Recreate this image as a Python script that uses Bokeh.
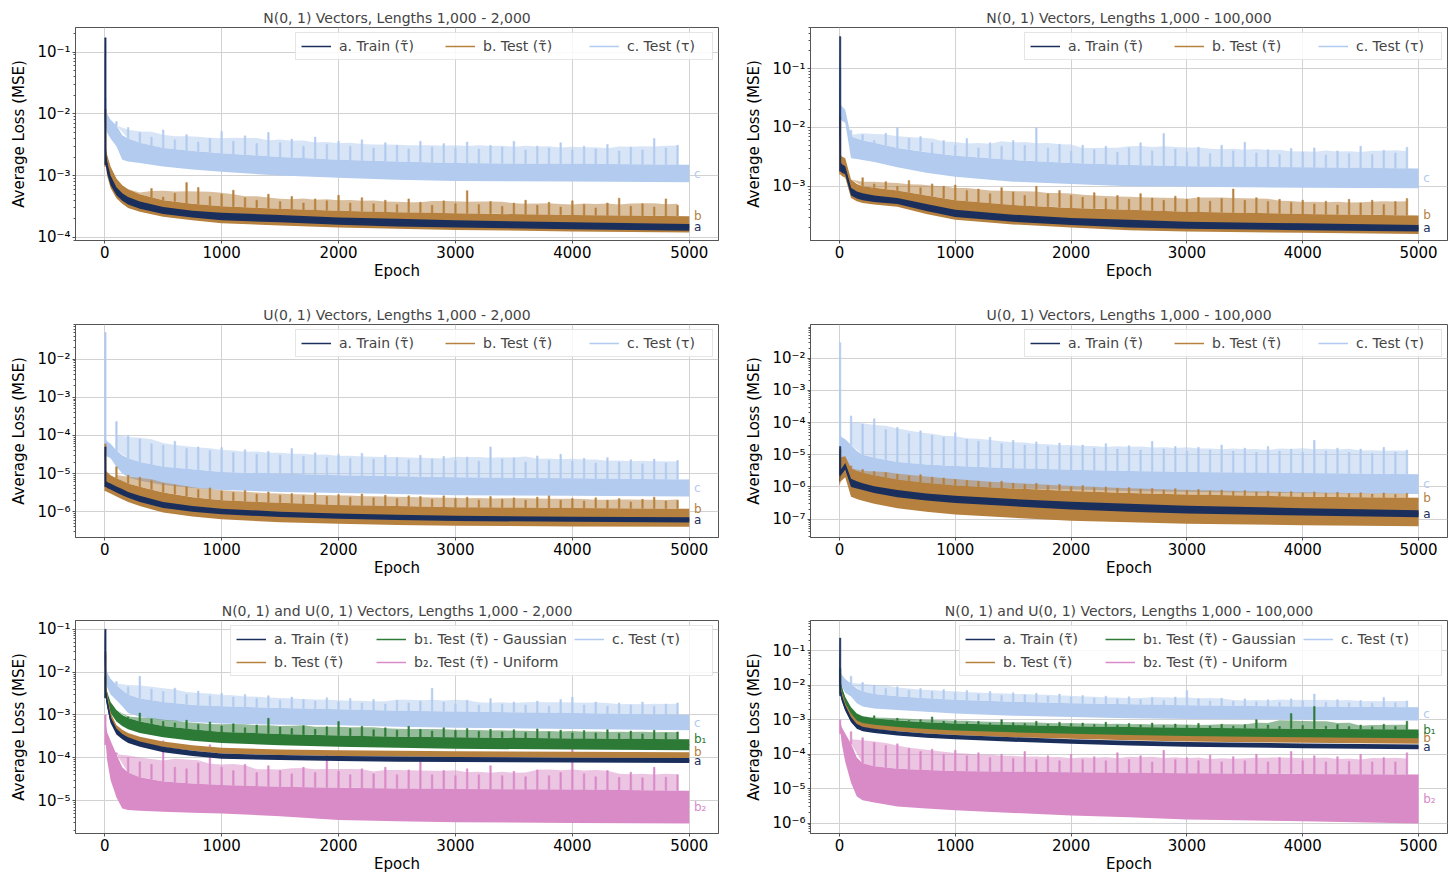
import numpy as np
from bokeh.plotting import figure
from bokeh.layouts import column, row
from bokeh.models import Range1d, FixedTicker, CustomJSTickFormatter, Legend, LegendItem
from bokeh.core.properties import value
from bokeh.embed import file_html
from bokeh.resources import INLINE

# ---------------- data ----------------
EPOCHS = [0, 10, 20, 50, 100, 150, 200, 300, 500, 750, 1000, 1500, 2000, 2500, 3000, 4000, 5000]
X_TICKS = [0, 1000, 2000, 3000, 4000, 5000]

TITLES = [
    "N(0, 1) Vectors, Lengths 1,000 - 2,000",
    "N(0, 1) Vectors, Lengths 1,000 - 100,000",
    "U(0, 1) Vectors, Lengths 1,000 - 2,000",
    "U(0, 1) Vectors, Lengths 1,000 - 100,000",
    "N(0, 1) and U(0, 1) Vectors, Lengths 1,000 - 2,000",
    "N(0, 1) and U(0, 1) Vectors, Lengths 1,000 - 100,000",
]
LBL_A = "a. Train (\u03c4\u0303)"
LBL_B = "b. Test (\u03c4\u0303)"
LBL_C = "c. Test (\u03c4)"
LBL_B1 = "b\u2081. Test (\u03c4\u0303) - Gaussian"
LBL_B2 = "b\u2082. Test (\u03c4\u0303) - Uniform"
END_LABELS = {"a": "a", "b": "b", "c": "c", "b1": "b\u2081", "b2": "b\u2082"}

Y_LIMS = [(8.9e-5, 0.25), (1.2e-4, 0.5), (2.1e-7, 0.081), (2.7e-8, 0.11), (1.7e-6, 0.16), (5.1e-7, 0.74)]
Y_TICKS = [
    [1e-4, 1e-3, 1e-2, 1e-1],
    [1e-3, 1e-2, 1e-1],
    [1e-6, 1e-5, 1e-4, 1e-3, 1e-2],
    [1e-7, 1e-6, 1e-5, 1e-4, 1e-3, 1e-2],
    [1e-5, 1e-4, 1e-3, 1e-2, 1e-1],
    [1e-6, 1e-5, 1e-4, 1e-3, 1e-2, 1e-1],
]

# Panel 1
p1_a_lo = [1.0e-2, 1.5e-3, 1.1e-3, 7.0e-4, 4.8e-4, 3.9e-4, 3.4e-4, 2.9e-4, 2.4e-4, 2.1e-4, 1.9e-4, 1.75e-4, 1.6e-4, 1.5e-4, 1.45e-4, 1.35e-4, 1.28e-4]
p1_a_hi = [1.7e-1, 2.5e-3, 1.7e-3, 1.0e-3, 6.5e-4, 5.2e-4, 4.5e-4, 3.8e-4, 3.1e-4, 2.7e-4, 2.5e-4, 2.3e-4, 2.1e-4, 2.0e-4, 1.9e-4, 1.75e-4, 1.65e-4]
p1_b_lo = [9.0e-3, 1.4e-3, 1.0e-3, 6.3e-4, 4.3e-4, 3.5e-4, 3.0e-4, 2.6e-4, 2.15e-4, 1.9e-4, 1.7e-4, 1.55e-4, 1.45e-4, 1.38e-4, 1.32e-4, 1.25e-4, 1.2e-4]
p1_b_hi = [1.2e-2, 3.0e-3, 2.2e-3, 1.4e-3, 9.0e-4, 7.0e-4, 6.0e-4, 5.0e-4, 4.0e-4, 3.5e-4, 3.2e-4, 2.9e-4, 2.7e-4, 2.55e-4, 2.45e-4, 2.3e-4, 2.2e-4]
p1_b_pk = [6.0e-4, 5.5e-4, 4.8e-4, 6.2e-4, 4.5e-4, 5.2e-4, 7.7e-4, 6.4e-4, 4.6e-4, 5.0e-4,
           5.8e-4, 4.4e-4, 4.0e-4, 5.0e-4, 3.8e-4, 4.6e-4, 3.6e-4, 4.2e-4, 3.9e-4, 4.8e-4,
           3.6e-4, 4.4e-4, 3.5e-4, 4.0e-4, 3.4e-4, 4.2e-4, 3.7e-4, 3.3e-4, 3.9e-4, 3.5e-4,
           5.7e-4, 3.4e-4, 3.8e-4, 3.2e-4, 3.6e-4, 4.0e-4, 3.3e-4, 3.7e-4, 3.1e-4, 3.9e-4,
           3.4e-4, 3.0e-4, 3.6e-4, 4.3e-4, 3.2e-4, 3.5e-4, 3.1e-4, 4.2e-4, 3.3e-4]
p1_c_lo = [1.0e-2, 6.0e-3, 5.0e-3, 4.0e-3, 3.0e-3, 1.8e-3, 1.7e-3, 1.6e-3, 1.4e-3, 1.25e-3, 1.15e-3, 1.0e-3, 9.2e-4, 8.6e-4, 8.2e-4, 8.0e-4, 7.8e-4]
p1_c_hi = [1.8e-2, 1.2e-2, 1.0e-2, 8.0e-3, 6.5e-3, 4.5e-3, 4.0e-3, 3.4e-3, 2.8e-3, 2.5e-3, 2.3e-3, 2.0e-3, 1.8e-3, 1.7e-3, 1.6e-3, 1.55e-3, 1.5e-3]
p1_c_pk = [7.5e-3, 6.0e-3, 5.0e-3, 4.2e-3, 5.5e-3, 3.8e-3, 4.6e-3, 3.5e-3, 4.0e-3, 5.2e-3,
           3.6e-3, 4.4e-3, 3.3e-3, 5.0e-3, 3.4e-3, 3.9e-3, 3.0e-3, 4.2e-3, 3.2e-3, 3.6e-3,
           3.0e-3, 3.8e-3, 2.8e-3, 3.4e-3, 3.1e-3, 2.7e-3, 3.6e-3, 2.9e-3, 3.3e-3, 2.8e-3,
           3.5e-3, 2.7e-3, 3.1e-3, 2.9e-3, 3.6e-3, 2.6e-3, 3.0e-3, 2.8e-3, 3.4e-3, 2.6e-3,
           3.0e-3, 2.7e-3, 3.2e-3, 2.5e-3, 2.9e-3, 2.6e-3, 4.0e-3, 2.8e-3, 3.1e-3]

# Panel 2
p2_a_lo = [1.0e-2, 1.8e-3, 1.7e-3, 1.6e-3, 7.0e-4, 6.2e-4, 5.8e-4, 5.4e-4, 5.0e-4, 3.8e-4, 3.0e-4, 2.5e-4, 2.2e-4, 2.0e-4, 1.9e-4, 1.8e-4, 1.7e-4]
p2_a_hi = [3.5e-1, 2.6e-3, 2.4e-3, 2.2e-3, 9.5e-4, 8.2e-4, 7.6e-4, 7.0e-4, 6.3e-4, 5.0e-4, 4.0e-4, 3.3e-4, 2.9e-4, 2.7e-4, 2.5e-4, 2.35e-4, 2.2e-4]
p2_b_lo = [9.0e-3, 1.6e-3, 1.5e-3, 1.4e-3, 6.3e-4, 5.6e-4, 5.2e-4, 4.9e-4, 4.5e-4, 3.4e-4, 2.7e-4, 2.25e-4, 2.0e-4, 1.8e-4, 1.7e-4, 1.62e-4, 1.55e-4]
p2_b_hi = [1.5e-2, 3.5e-3, 3.2e-3, 3.0e-3, 1.3e-3, 1.1e-3, 1.0e-3, 9.5e-4, 8.5e-4, 7.0e-4, 5.8e-4, 4.8e-4, 4.3e-4, 4.0e-4, 3.7e-4, 3.4e-4, 3.2e-4]
p2_b_pk = [1.3e-3, 1.4e-3, 1.1e-3, 1.2e-3, 1.0e-3, 1.25e-3, 9.5e-4, 1.1e-3, 1.0e-3, 1.05e-3,
           8.5e-4, 9.0e-4, 7.5e-4, 9.5e-4, 8.0e-4, 7.0e-4, 1.0e-3, 7.5e-4, 8.5e-4, 7.0e-4,
           6.5e-4, 7.8e-4, 6.2e-4, 7.0e-4, 6.0e-4, 7.5e-4, 6.3e-4, 5.8e-4, 6.8e-4, 6.0e-4,
           6.5e-4, 5.6e-4, 6.2e-4, 9.0e-4, 5.8e-4, 6.4e-4, 5.5e-4, 6.0e-4, 5.3e-4, 5.8e-4,
           5.0e-4, 5.6e-4, 4.8e-4, 6.0e-4, 5.2e-4, 5.8e-4, 4.9e-4, 5.5e-4, 6.2e-4]
p2_c_lo = [1.5e-2, 1.4e-2, 1.3e-2, 1.2e-2, 3.0e-3, 2.9e-3, 2.8e-3, 2.6e-3, 2.1e-3, 1.7e-3, 1.45e-3, 1.2e-3, 1.1e-3, 1.0e-3, 9.8e-4, 9.5e-4, 9.3e-4]
p2_c_hi = [1.0e-1, 2.5e-2, 2.3e-2, 2.0e-2, 7.0e-3, 6.5e-3, 6.0e-3, 5.5e-3, 4.5e-3, 3.8e-3, 3.3e-3, 2.8e-3, 2.5e-3, 2.3e-3, 2.2e-3, 2.1e-3, 2.0e-3]
p2_c_pk = [9.0e-3, 7.5e-3, 6.0e-3, 8.0e-3, 1.0e-2, 6.5e-3, 7.0e-3, 5.5e-3, 6.0e-3, 5.0e-3,
           6.5e-3, 4.5e-3, 5.5e-3, 4.8e-3, 6.0e-3, 5.0e-3, 1.0e-2, 4.5e-3, 5.2e-3, 4.0e-3,
           5.0e-3, 4.2e-3, 4.8e-3, 3.8e-3, 4.5e-3, 5.5e-3, 4.0e-3, 7.9e-3, 4.3e-3, 3.8e-3,
           4.6e-3, 3.6e-3, 5.0e-3, 4.0e-3, 5.6e-3, 3.7e-3, 4.2e-3, 3.5e-3, 4.4e-3, 3.8e-3,
           4.5e-3, 3.4e-3, 4.0e-3, 3.6e-3, 4.8e-3, 3.5e-3, 4.1e-3, 3.7e-3, 4.6e-3]

# Panel 3
p3_a_lo = [3.0e-5, 4.5e-6, 4.2e-6, 3.8e-6, 3.2e-6, 2.7e-6, 2.3e-6, 1.8e-6, 1.25e-6, 1.0e-6, 8.5e-7, 7.2e-7, 6.5e-7, 6.0e-7, 5.7e-7, 5.4e-7, 5.2e-7]
p3_a_hi = [5.0e-5, 6.5e-6, 6.0e-6, 5.5e-6, 4.6e-6, 3.9e-6, 3.3e-6, 2.6e-6, 1.8e-6, 1.4e-6, 1.2e-6, 1.0e-6, 9.0e-7, 8.3e-7, 7.8e-7, 7.4e-7, 7.1e-7]
p3_b_lo = [2.5e-5, 3.5e-6, 3.3e-6, 3.0e-6, 2.5e-6, 2.1e-6, 1.8e-6, 1.4e-6, 9.5e-7, 7.5e-7, 6.3e-7, 5.3e-7, 4.8e-7, 4.5e-7, 4.3e-7, 4.1e-7, 4.0e-7]
p3_b_hi = [6.0e-5, 1.2e-5, 1.1e-5, 9.0e-6, 7.5e-6, 6.5e-6, 5.5e-6, 4.5e-6, 3.2e-6, 2.4e-6, 2.0e-6, 1.7e-6, 1.5e-6, 1.4e-6, 1.3e-6, 1.25e-6, 1.2e-6]
p3_b_pk = [1.5e-5, 9.0e-6, 8.0e-6, 6.5e-6, 5.5e-6, 5.0e-6, 4.5e-6, 3.8e-6, 4.2e-6, 3.5e-6,
           3.2e-6, 3.6e-6, 2.9e-6, 3.3e-6, 2.7e-6, 3.0e-6, 2.6e-6, 3.1e-6, 2.5e-6, 2.8e-6,
           2.4e-6, 2.9e-6, 2.3e-6, 2.7e-6, 2.2e-6, 2.6e-6, 2.5e-6, 2.1e-6, 2.6e-6, 2.2e-6,
           2.4e-6, 2.0e-6, 2.5e-6, 2.1e-6, 2.3e-6, 2.0e-6, 2.4e-6, 2.6e-6, 2.0e-6, 2.2e-6,
           1.9e-6, 2.3e-6, 2.0e-6, 2.2e-6, 1.8e-6, 2.1e-6, 2.4e-6, 1.9e-6, 2.0e-6]
p3_c_lo = [5.0e-5, 3.0e-5, 2.8e-5, 2.5e-5, 1.5e-5, 1.0e-5, 8.0e-6, 6.5e-6, 5.0e-6, 4.2e-6, 3.7e-6, 3.3e-6, 3.1e-6, 2.9e-6, 2.7e-6, 2.6e-6, 2.5e-6]
p3_c_hi = [5.0e-2, 8.0e-5, 7.0e-5, 6.0e-5, 4.0e-5, 3.0e-5, 2.5e-5, 2.0e-5, 1.5e-5, 1.3e-5, 1.1e-5, 1.0e-5, 9.0e-6, 8.5e-6, 8.0e-6, 7.5e-6, 7.0e-6]
p3_c_pk = [2.3e-4, 1.0e-4, 8.0e-5, 6.0e-5, 5.5e-5, 7.0e-5, 4.5e-5, 5.0e-5, 4.0e-5, 4.8e-5,
           3.5e-5, 4.2e-5, 3.2e-5, 3.8e-5, 3.0e-5, 4.5e-5, 2.8e-5, 3.5e-5, 2.6e-5, 3.2e-5,
           2.5e-5, 3.4e-5, 2.4e-5, 3.0e-5, 2.6e-5, 2.3e-5, 3.0e-5, 2.4e-5, 2.8e-5, 2.2e-5,
           2.7e-5, 2.1e-5, 5.0e-5, 2.4e-5, 2.6e-5, 2.0e-5, 2.9e-5, 2.2e-5, 3.2e-5, 2.1e-5,
           2.5e-5, 1.9e-5, 2.6e-5, 2.0e-5, 2.3e-5, 1.8e-5, 2.4e-5, 1.9e-5, 2.2e-5]

# Panel 4
p4_a_lo = [1.2e-6, 2.3e-6, 2.5e-6, 3.5e-6, 1.0e-6, 9.0e-7, 8.0e-7, 6.5e-7, 4.8e-7, 3.8e-7, 3.2e-7, 2.5e-7, 2.0e-7, 1.7e-7, 1.5e-7, 1.3e-7, 1.15e-7]
p4_a_hi = [1.8e-5, 3.5e-6, 3.8e-6, 5.5e-6, 1.8e-6, 1.5e-6, 1.3e-6, 1.05e-6, 8.0e-7, 6.3e-7, 5.3e-7, 4.2e-7, 3.5e-7, 3.0e-7, 2.6e-7, 2.2e-7, 1.9e-7]
p4_b_lo = [1.0e-6, 1.5e-6, 1.6e-6, 2.0e-6, 5.0e-7, 4.2e-7, 3.7e-7, 3.0e-7, 2.2e-7, 1.7e-7, 1.4e-7, 1.1e-7, 9.0e-8, 8.0e-8, 7.2e-8, 6.5e-8, 6.0e-8]
p4_b_hi = [1.5e-5, 8.0e-6, 8.5e-6, 9.0e-6, 3.8e-6, 3.2e-6, 2.8e-6, 2.3e-6, 1.7e-6, 1.35e-6, 1.1e-6, 9.0e-7, 7.5e-7, 6.5e-7, 5.8e-7, 5.0e-7, 4.6e-7]
p4_b_pk = [4.5e-6, 3.5e-6, 3.0e-6, 2.8e-6, 2.5e-6, 2.2e-6, 2.4e-6, 2.0e-6, 1.9e-6, 1.7e-6,
           1.6e-6, 1.5e-6, 1.4e-6, 1.5e-6, 1.3e-6, 1.2e-6, 1.3e-6, 1.1e-6, 1.2e-6, 1.0e-6,
           1.1e-6, 9.5e-7, 1.0e-6, 9.0e-7, 9.5e-7, 8.5e-7, 9.0e-7, 8.0e-7, 8.8e-7, 7.8e-7,
           8.3e-7, 7.5e-7, 8.0e-7, 7.2e-7, 7.8e-7, 7.0e-7, 7.5e-7, 6.8e-7, 7.2e-7, 6.5e-7,
           7.0e-7, 6.4e-7, 6.8e-7, 6.2e-7, 6.6e-7, 6.0e-7, 6.5e-7, 5.8e-7, 6.3e-7]
p4_c_lo = [3.0e-6, 7.0e-6, 6.0e-6, 5.0e-6, 3.5e-6, 2.2e-6, 1.8e-6, 1.5e-6, 1.3e-6, 1.1e-6, 1.0e-6, 9.0e-7, 8.3e-7, 7.5e-7, 7.0e-7, 6.4e-7, 6.0e-7]
p4_c_hi = [3.0e-2, 4.0e-5, 3.5e-5, 3.0e-5, 2.0e-5, 1.3e-5, 1.0e-5, 8.0e-6, 6.0e-6, 5.0e-6, 4.5e-6, 3.8e-6, 3.4e-6, 3.1e-6, 2.9e-6, 2.7e-6, 2.5e-6]
p4_c_pk = [1.6e-4, 9.0e-5, 1.3e-4, 6.0e-5, 7.0e-5, 4.5e-5, 5.5e-5, 4.0e-5, 3.5e-5, 4.8e-5,
           3.0e-5, 2.6e-5, 3.5e-5, 2.2e-5, 2.8e-5, 2.0e-5, 2.5e-5, 1.8e-5, 2.3e-5, 1.7e-5,
           2.0e-5, 1.6e-5, 2.2e-5, 1.5e-5, 1.9e-5, 1.4e-5, 2.6e-5, 1.5e-5, 1.8e-5, 1.3e-5,
           1.7e-5, 1.4e-5, 2.0e-5, 1.3e-5, 1.6e-5, 1.2e-5, 1.8e-5, 1.3e-5, 1.5e-5, 1.2e-5,
           2.8e-5, 1.3e-5, 1.6e-5, 1.2e-5, 1.5e-5, 1.1e-5, 1.7e-5, 1.2e-5, 1.4e-5]

# Panel 5
p5_a_lo = [2.0e-2, 2.5e-3, 1.6e-3, 6.5e-4, 3.5e-4, 2.7e-4, 2.2e-4, 1.8e-4, 1.35e-4, 1.1e-4, 9.5e-5, 8.8e-5, 8.4e-5, 8.1e-5, 7.9e-5, 7.7e-5, 7.5e-5]
p5_a_hi = [1.0e-1, 4.0e-3, 2.5e-3, 9.0e-4, 4.8e-4, 3.6e-4, 3.0e-4, 2.4e-4, 1.8e-4, 1.45e-4, 1.25e-4, 1.15e-4, 1.1e-4, 1.07e-4, 1.04e-4, 1.0e-4, 9.8e-5]
p5_b_lo = [1.5e-2, 3.5e-3, 2.2e-3, 8.0e-4, 4.3e-4, 3.3e-4, 2.8e-4, 2.3e-4, 1.75e-4, 1.45e-4, 1.25e-4, 1.15e-4, 1.1e-4, 1.07e-4, 1.04e-4, 1.0e-4, 9.8e-5]
p5_b_hi = [3.0e-2, 5.0e-3, 3.0e-3, 1.1e-3, 5.8e-4, 4.5e-4, 3.8e-4, 3.1e-4, 2.4e-4, 1.95e-4, 1.7e-4, 1.55e-4, 1.5e-4, 1.45e-4, 1.42e-4, 1.38e-4, 1.35e-4]
p5_b1_lo = [5.0e-3, 2.5e-3, 2.0e-3, 1.1e-3, 7.0e-4, 5.5e-4, 4.6e-4, 3.8e-4, 3.0e-4, 2.5e-4, 2.2e-4, 1.95e-4, 1.8e-4, 1.7e-4, 1.62e-4, 1.55e-4, 1.5e-4]
p5_b1_hi = [8.0e-3, 4.5e-3, 3.5e-3, 2.0e-3, 1.3e-3, 1.0e-3, 8.5e-4, 7.0e-4, 5.5e-4, 4.6e-4, 4.0e-4, 3.6e-4, 3.3e-4, 3.1e-4, 3.0e-4, 2.8e-4, 2.7e-4]
p5_b1_pk = [1.2e-3, 9.0e-4, 1.1e-3, 8.0e-4, 7.0e-4, 6.5e-4, 7.5e-4, 6.0e-4, 6.8e-4, 5.5e-4,
            6.2e-4, 5.0e-4, 5.8e-4, 8.3e-4, 5.2e-4, 4.8e-4, 5.6e-4, 4.6e-4, 5.3e-4, 7.0e-4,
            4.8e-4, 5.4e-4, 4.5e-4, 5.0e-4, 4.4e-4, 5.4e-4, 4.6e-4, 4.2e-4, 5.0e-4, 4.3e-4,
            4.8e-4, 4.1e-4, 4.6e-4, 4.0e-4, 4.5e-4, 3.9e-4, 4.7e-4, 4.0e-4, 4.4e-4, 3.8e-4,
            4.3e-4, 3.8e-4, 4.5e-4, 3.7e-4, 4.2e-4, 3.6e-4, 4.4e-4, 3.8e-4, 4.0e-4]
p5_b2_lo = [1.0e-3, 2.0e-4, 9.0e-5, 3.0e-5, 1.2e-5, 6.5e-6, 6.0e-6, 5.8e-6, 5.5e-6, 5.2e-6, 5.0e-6, 4.3e-6, 3.5e-6, 3.3e-6, 3.1e-6, 3.0e-6, 2.9e-6]
p5_b2_hi = [1.0e-3, 6.0e-4, 4.0e-4, 2.5e-4, 1.2e-4, 6.0e-5, 4.5e-5, 3.5e-5, 2.8e-5, 2.5e-5, 2.3e-5, 2.1e-5, 2.0e-5, 1.9e-5, 1.85e-5, 1.8e-5, 1.7e-5]
p5_b2_pk = [1.3e-4, 1.0e-4, 8.0e-5, 7.0e-5, 2.5e-4, 6.0e-5, 5.5e-5, 7.5e-5, 2.0e-4, 6.0e-5,
            5.0e-5, 7.0e-5, 4.5e-5, 6.5e-5, 5.0e-5, 4.2e-5, 6.0e-5, 4.5e-5, 1.2e-4, 4.8e-5,
            4.0e-5, 5.5e-5, 4.2e-5, 6.0e-5, 4.0e-5, 5.2e-5, 8.5e-5, 4.0e-5, 5.0e-5, 3.8e-5,
            5.5e-5, 4.0e-5, 6.5e-5, 3.8e-5, 4.8e-5, 3.6e-5, 5.2e-5, 3.8e-5, 4.5e-5, 1.8e-4,
            4.2e-5, 3.6e-5, 5.0e-5, 3.5e-5, 4.6e-5, 3.4e-5, 6.0e-5, 3.5e-5, 4.0e-5]
p5_c_lo = [1.2e-2, 6.0e-3, 4.5e-3, 3.0e-3, 2.2e-3, 1.6e-3, 1.1e-3, 9.0e-4, 7.5e-4, 6.8e-4, 6.3e-4, 5.9e-4, 5.7e-4, 5.3e-4, 5.0e-4, 4.7e-4, 4.4e-4]
p5_c_hi = [2.5e-2, 1.3e-2, 1.0e-2, 7.0e-3, 5.0e-3, 3.8e-3, 3.0e-3, 2.4e-3, 2.0e-3, 1.7e-3, 1.6e-3, 1.45e-3, 1.35e-3, 1.25e-3, 1.2e-3, 1.1e-3, 1.0e-3]
p5_c_pk = [6.0e-3, 4.5e-3, 8.0e-3, 4.0e-3, 3.5e-3, 4.2e-3, 3.0e-3, 3.6e-3, 2.8e-3, 3.2e-3,
           2.6e-3, 3.0e-3, 2.4e-3, 2.8e-3, 2.2e-3, 2.6e-3, 2.3e-3, 2.1e-3, 2.5e-3, 2.0e-3,
           2.4e-3, 1.9e-3, 2.3e-3, 1.8e-3, 2.2e-3, 1.9e-3, 2.1e-3, 4.2e-3, 2.0e-3, 1.8e-3,
           2.2e-3, 1.7e-3, 2.4e-3, 1.8e-3, 2.0e-3, 1.7e-3, 2.1e-3, 1.6e-3, 2.3e-3, 2.6e-3,
           1.7e-3, 2.0e-3, 1.6e-3, 1.9e-3, 1.7e-3, 2.0e-3, 1.6e-3, 1.8e-3, 1.9e-3]

# Panel 6
p6_a_lo = [1.2e-2, 5.0e-3, 3.5e-3, 1.8e-3, 8.5e-4, 5.5e-4, 4.6e-4, 4.1e-4, 3.5e-4, 3.0e-4, 2.7e-4, 2.3e-4, 2.0e-4, 1.8e-4, 1.65e-4, 1.5e-4, 1.4e-4]
p6_a_hi = [2.3e-1, 8.0e-3, 5.0e-3, 2.6e-3, 1.2e-3, 7.5e-4, 6.2e-4, 5.5e-4, 4.6e-4, 4.0e-4, 3.6e-4, 3.1e-4, 2.7e-4, 2.45e-4, 2.25e-4, 2.05e-4, 1.9e-4]
p6_b_lo = [1.2e-2, 6.0e-3, 4.5e-3, 2.2e-3, 1.1e-3, 7.0e-4, 6.0e-4, 5.3e-4, 4.6e-4, 4.0e-4, 3.6e-4, 3.1e-4, 2.8e-4, 2.55e-4, 2.35e-4, 2.15e-4, 2.0e-4]
p6_b_hi = [2.0e-2, 8.5e-3, 6.0e-3, 3.0e-3, 1.5e-3, 9.5e-4, 8.0e-4, 7.1e-4, 6.1e-4, 5.4e-4, 4.9e-4, 4.3e-4, 3.9e-4, 3.6e-4, 3.35e-4, 3.1e-4, 2.9e-4]
p6_b1_lo = [1.5e-2, 8.0e-3, 5.5e-3, 2.8e-3, 1.4e-3, 9.0e-4, 7.5e-4, 6.5e-4, 5.5e-4, 4.8e-4, 4.3e-4, 3.8e-4, 3.5e-4, 3.3e-4, 3.1e-4, 2.9e-4, 2.7e-4]
p6_b1_hi = [3.0e-2, 1.3e-2, 9.0e-3, 4.5e-3, 2.3e-3, 1.5e-3, 1.25e-3, 1.1e-3, 9.5e-4, 8.5e-4, 7.8e-4, 7.0e-4, 6.5e-4, 6.1e-4, 5.8e-4, 5.5e-4, 5.2e-4]
p6_b1_pk = [1.5e-3, 1.2e-3, 1.3e-3, 1.0e-3, 1.1e-3, 9.5e-4, 1.0e-3, 1.2e-3, 9.0e-4, 9.5e-4,
            8.5e-4, 9.0e-4, 8.0e-4, 1.0e-3, 8.2e-4, 7.8e-4, 9.0e-4, 7.5e-4, 8.5e-4, 7.6e-4,
            8.0e-4, 7.2e-4, 8.4e-4, 7.0e-4, 7.8e-4, 7.0e-4, 8.0e-4, 6.8e-4, 7.5e-4, 6.8e-4,
            7.8e-4, 6.6e-4, 7.4e-4, 6.5e-4, 7.2e-4, 1.0e-3, 7.0e-4, 6.4e-4, 1.5e-3, 6.8e-4,
            2.4e-3, 6.5e-4, 7.2e-4, 6.3e-4, 7.0e-4, 6.2e-4, 7.4e-4, 6.4e-4, 9.0e-4]
p6_b2_lo = [1.0e-3, 4.0e-4, 2.0e-4, 6.0e-5, 1.5e-5, 6.0e-6, 4.7e-6, 4.0e-6, 3.1e-6, 2.7e-6, 2.4e-6, 2.0e-6, 1.7e-6, 1.5e-6, 1.3e-6, 1.15e-6, 1.0e-6]
p6_b2_hi = [1.0e-3, 8.0e-4, 6.0e-4, 4.0e-4, 2.0e-4, 8.0e-5, 5.5e-5, 4.5e-5, 3.8e-5, 3.5e-5, 3.3e-5, 3.1e-5, 3.0e-5, 2.9e-5, 2.8e-5, 2.7e-5, 2.6e-5]
p6_b2_pk = [4.5e-4, 3.0e-4, 2.2e-4, 1.8e-4, 2.0e-4, 1.5e-4, 1.2e-4, 1.4e-4, 1.0e-4, 1.3e-4,
            9.0e-5, 1.1e-4, 8.0e-5, 1.0e-4, 7.5e-5, 1.2e-4, 7.0e-5, 9.0e-5, 6.5e-5, 1.0e-4,
            7.0e-5, 8.5e-5, 6.5e-5, 1.1e-4, 7.0e-5, 9.0e-5, 6.0e-5, 1.3e-4, 7.0e-5, 8.0e-5,
            6.5e-5, 9.5e-5, 6.0e-5, 8.5e-5, 6.5e-5, 1.0e-4, 6.0e-5, 8.0e-5, 1.2e-4, 6.5e-5,
            9.0e-5, 6.0e-5, 8.5e-5, 6.2e-5, 1.0e-4, 6.0e-5, 8.0e-5, 6.0e-5, 1.1e-4]
p6_c_lo = [1.5e-2, 1.2e-2, 9.0e-3, 6.0e-3, 4.7e-3, 3.0e-3, 2.4e-3, 2.1e-3, 1.9e-3, 1.7e-3, 1.5e-3, 1.3e-3, 1.2e-3, 1.1e-3, 1.05e-3, 1.0e-3, 9.5e-4]
p6_c_hi = [3.0e-2, 2.5e-2, 2.0e-2, 1.5e-2, 1.1e-2, 8.0e-3, 6.5e-3, 5.5e-3, 4.8e-3, 4.2e-3, 3.8e-3, 3.3e-3, 3.0e-3, 2.8e-3, 2.6e-3, 2.4e-3, 2.3e-3]
p6_c_pk = [1.8e-2, 1.2e-2, 1.0e-2, 8.0e-3, 9.0e-3, 7.0e-3, 8.0e-3, 6.5e-3, 7.5e-3, 6.0e-3,
           7.0e-3, 5.5e-3, 6.5e-3, 5.0e-3, 6.0e-3, 5.2e-3, 5.8e-3, 4.8e-3, 5.5e-3, 4.5e-3,
           5.0e-3, 4.2e-3, 4.8e-3, 4.0e-3, 4.6e-3, 3.8e-3, 4.4e-3, 3.6e-3, 4.5e-3, 7.0e-3,
           4.0e-3, 3.5e-3, 4.2e-3, 3.4e-3, 4.0e-3, 3.3e-3, 3.8e-3, 3.2e-3, 4.0e-3, 3.5e-3,
           5.5e-3, 3.2e-3, 3.8e-3, 3.1e-3, 3.6e-3, 3.0e-3, 4.4e-3, 3.1e-3, 3.5e-3]

# ---------------- styling ----------------
COLORS = {"a": "#1b2f5c", "b": "#b6803f", "c": "#b2cbef", "b1": "#2c7a36", "b2": "#d98bc8"}
LABELS = {"a": LBL_A, "b": LBL_B, "c": LBL_C, "b1": LBL_B1, "b2": LBL_B2}
END_ANCHOR = {"a": "mid", "b": "hi", "c": "mid", "b1": "hi", "b2": "mid"}
FONT = "DejaVu Sans"
DRAW_ORDER = ["c", "b2", "b1", "b", "a"]
LEGEND_ORDER = ["a", "b", "b1", "b2", "c"]

PANELS = [
    {"a": (p1_a_lo, p1_a_hi, None), "b": (p1_b_lo, p1_b_hi, p1_b_pk), "c": (p1_c_lo, p1_c_hi, p1_c_pk)},
    {"a": (p2_a_lo, p2_a_hi, None), "b": (p2_b_lo, p2_b_hi, p2_b_pk), "c": (p2_c_lo, p2_c_hi, p2_c_pk)},
    {"a": (p3_a_lo, p3_a_hi, None), "b": (p3_b_lo, p3_b_hi, p3_b_pk), "c": (p3_c_lo, p3_c_hi, p3_c_pk)},
    {"a": (p4_a_lo, p4_a_hi, None), "b": (p4_b_lo, p4_b_hi, p4_b_pk), "c": (p4_c_lo, p4_c_hi, p4_c_pk)},
    {"a": (p5_a_lo, p5_a_hi, None), "b": (p5_b_lo, p5_b_hi, None), "b1": (p5_b1_lo, p5_b1_hi, p5_b1_pk),
     "b2": (p5_b2_lo, p5_b2_hi, p5_b2_pk), "c": (p5_c_lo, p5_c_hi, p5_c_pk)},
    {"a": (p6_a_lo, p6_a_hi, None), "b": (p6_b_lo, p6_b_hi, None), "b1": (p6_b1_lo, p6_b1_hi, p6_b1_pk),
     "b2": (p6_b2_lo, p6_b2_hi, p6_b2_pk), "c": (p6_c_lo, p6_c_hi, p6_c_pk)},
]

SUP = CustomJSTickFormatter(code="""
const m = {'-':'\u207b','0':'\u2070','1':'\u00b9','2':'\u00b2','3':'\u00b3','4':'\u2074',
           '5':'\u2075','6':'\u2076','7':'\u2077','8':'\u2078','9':'\u2079'};
const e = Math.round(Math.log10(tick));
return '10' + String(e).split('').map(c => m[c]).join('');
""")


def smooth_log(vals, half=3):
    # geometric running mean of the read peak values (for the semi-dense noise zone)
    lv = np.log10(np.array(vals))
    out = []
    for k in range(len(lv)):
        a, b = max(0, k - half), min(len(lv), k + half + 1)
        out.append(lv[a:b].mean())
    return 10 ** np.array(out)


def make_panel(i, left_col, bottom_row):
    lo_y, hi_y = Y_LIMS[i]
    fw = 643 if left_col else 637
    top = 26 if bottom_row else 27
    p = figure(y_axis_type="log", x_range=Range1d(-250, 5250), y_range=Range1d(lo_y, hi_y),
               frame_width=fw, frame_height=213,
               min_border_left=75, min_border_right=(17 if left_col else 2),
               min_border_top=top, min_border_bottom=(41 if bottom_row else 57),
               toolbar_location=None, output_backend="svg", title=TITLES[i])
    p.title.text_font = FONT
    p.title.text_font_size = "14px"
    p.title.text_font_style = "normal"
    p.title.align = "center"
    p.title.standoff = 3
    p.title.offset = 0
    p.outline_line_color = "#555555"
    p.outline_line_width = 1
    p.background_fill_color = "white"

    # ticks and grid
    minors = []
    for d in range(int(np.floor(np.log10(lo_y))), int(np.ceil(np.log10(hi_y))) + 1):
        for m in range(2, 10):
            v = m * 10.0 ** d
            if lo_y <= v <= hi_y:
                minors.append(v)
    p.xaxis.ticker = FixedTicker(ticks=X_TICKS)
    p.yaxis.ticker = FixedTicker(ticks=Y_TICKS[i], minor_ticks=minors)
    p.yaxis.formatter = SUP
    p.xgrid.ticker = FixedTicker(ticks=X_TICKS)
    p.ygrid.ticker = FixedTicker(ticks=Y_TICKS[i])
    p.grid.grid_line_color = "#d2d2d2"
    p.grid.grid_line_width = 1
    for ax in (p.xaxis[0], p.yaxis[0]):
        ax.major_label_text_font = FONT
        ax.major_label_text_font_size = "15px"
        ax.major_label_text_color = "black"
        ax.axis_label_text_font = FONT
        ax.axis_label_text_font_size = "15px"
        ax.axis_label_text_font_style = "normal"
        ax.axis_label_text_color = "black"
        ax.axis_line_color = "#555555"
        ax.major_tick_line_color = "#555555"
        ax.minor_tick_line_color = "#555555"
        ax.major_tick_out = 3
        ax.major_tick_in = 0
        ax.minor_tick_out = 2
        ax.minor_tick_in = 0
        ax.major_label_standoff = 2
    p.xaxis.axis_label = "Epoch"
    p.yaxis.axis_label = "Average Loss (MSE)"
    p.xaxis.axis_label_standoff = 1
    p.yaxis.axis_label_standoff = 6
    p.xaxis.minor_tick_line_color = None

    series = PANELS[i]
    lines = {}
    for key in DRAW_ORDER:
        if key not in series:
            continue
        lo, hi, pk = series[key]
        col = COLORS[key]
        p.varea(x=EPOCHS, y1=lo, y2=hi, fill_color=col, fill_alpha=1.0)
        # the very first, tall value of the run
        p.vbar(x=[EPOCHS[0] + 6], width=12, bottom=[lo[1]], top=[hi[0]],
               fill_color=col, line_color=col, line_width=0.5)
        if pk is not None:
            sx = [100 * (k + 1) for k in range(len(pk))]
            base = 10 ** np.interp(sx, EPOCHS, np.log10(hi))
            env = np.maximum(smooth_log(pk), base)
            p.varea(x=sx, y1=list(base), y2=list(env), fill_color=col, fill_alpha=0.5)
            keep = [k for k in range(len(pk)) if pk[k] > base[k]]
            p.vbar(x=[sx[k] for k in keep], width=14,
                   bottom=[base[k] for k in keep], top=[pk[k] for k in keep],
                   fill_color=col, line_color=col, line_width=0.5)
        mid = np.sqrt(np.array(lo) * np.array(hi))
        lines[key] = p.line(x=EPOCHS[1:], y=list(mid[1:]), line_color=col, line_width=1.5)

    # end-of-series letters
    ex, ey, et, ec = [], [], [], []
    for key in LEGEND_ORDER:
        if key not in series:
            continue
        lo, hi, pk = series[key]
        ex.append(5040)
        ey.append(hi[-1] if END_ANCHOR[key] == "hi" else float(np.sqrt(lo[-1] * hi[-1])))
        et.append(END_LABELS[key])
        ec.append(COLORS[key])
    p.text(x=ex, y=ey, text=et, text_color=ec, text_font=value(FONT), text_font_size="12px",
           text_baseline="middle", text_align="left")

    items = [LegendItem(label=LABELS[k], renderers=[lines[k]]) for k in LEGEND_ORDER if k in series]
    if len(items) > 3:
        legend = Legend(items=items, location="top_right", orientation="vertical", ncols=3)
        legend.label_width = 95
        legend.spacing = 7
    else:
        legend = Legend(items=items, location="top_right", orientation="horizontal")
        legend.label_width = 80
        legend.spacing = 26
    legend.label_text_font = FONT
    legend.label_text_font_size = "14px"
    legend.glyph_width = 30
    legend.glyph_height = 14
    legend.label_height = 14
    legend.label_standoff = 8
    legend.padding = 5
    legend.margin = 5
    legend.border_line_color = "#cccccc"
    legend.background_fill_alpha = 0.85
    p.add_layout(legend)
    return p


figs = [make_panel(i, i % 2 == 0, i >= 4) for i in range(6)]
layout = column(row(figs[0], figs[1]), row(figs[2], figs[3]), row(figs[4], figs[5]))

open("out.html", "w").write(file_html(layout, INLINE))
